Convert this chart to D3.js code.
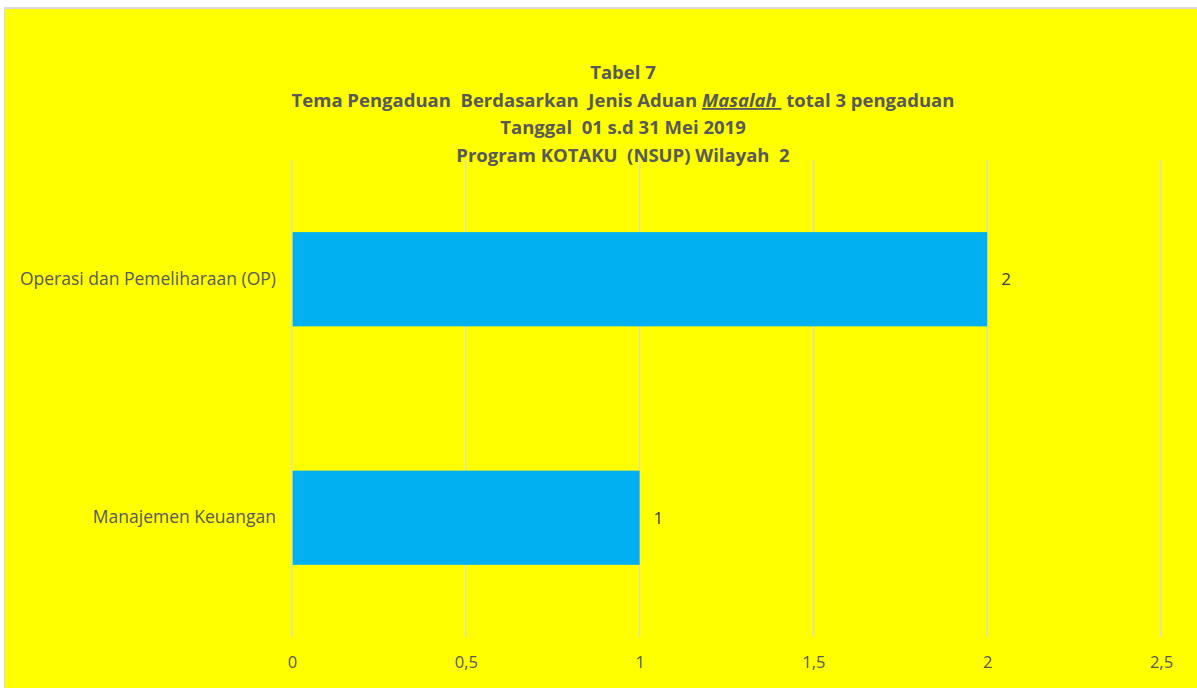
<!DOCTYPE html>
<html>
<head>
<meta charset="utf-8">
<script src="https://cdn.jsdelivr.net/npm/d3@7"></script>
<style>
  html, body { margin: 0; padding: 0; background: #ffffff; }
  svg { display: block; }
  text { font-family: "Open Sans", "Noto Sans", sans-serif; fill: #595959; }
</style>
</head>
<body>
<svg id="chart" width="1197" height="688"></svg>
<script>
// Data
const categories = ["Operasi dan Pemeliharaan (OP)", "Manajemen Keuangan"];
const values = [2, 1];
const tickValues = [0, 0.5, 1, 1.5, 2, 2.5];
const tickLabels = ["0", "0,5", "1", "1,5", "2", "2,5"];
const titleLines = [
  [{t: "Tabel 7"}],
  [{t: "Tema Pengaduan  Berdasarkan  Jenis Aduan "}, {t: "Masalah ", it: true, u: true}, {t: " total 3 pengaduan"}],
  [{t: "Tanggal  01 s.d 31 Mei 2019"}],
  [{t: "Program KOTAKU  (NSUP) Wilayah  2"}]
];

const svg = d3.select("#chart");
const W = 1197, H = 688;

// background frame
svg.append("rect").attr("x", 4).attr("y", 7).attr("width", W - 4).attr("height", H - 7)
  .attr("fill", "#d9d9d9");
svg.append("rect").attr("x", 5).attr("y", 9).attr("width", W - 5).attr("height", H - 9)
  .attr("fill", "#ffff00");

const plot = {left: 292, right: 1161, top: 160, bottom: 637};

const x = d3.scaleLinear().domain([0, 2.5]).range([plot.left, plot.right]);
const y = d3.scaleBand().domain(categories).range([plot.top, plot.bottom]).paddingInner(0.605).paddingOuter(0.3025);

// gridlines
svg.append("g").selectAll("line").data(tickValues).join("line")
  .attr("x1", d => x(d)).attr("x2", d => x(d))
  .attr("y1", plot.top).attr("y2", plot.bottom)
  .attr("stroke", "#d9d9d9").attr("stroke-width", 1.3);

// bars
svg.append("g").selectAll("rect").data(categories).join("rect")
  .attr("x", x(0) + 0.7)
  .attr("y", d => y(d))
  .attr("width", (d, i) => x(values[i]) - x(0) - 0.7)
  .attr("height", y.bandwidth())
  .attr("fill", "#00b0f0");

// value labels
svg.append("g").selectAll("text").data(categories).join("text")
  .attr("x", (d, i) => x(values[i]) + 14)
  .attr("y", d => y(d) + y.bandwidth() / 2)
  .attr("dy", "0.36em")
  .style("font-size", "17px")
  .style("fill", "#404040")
  .text((d, i) => values[i]);

// category labels
const yAxis = d3.axisLeft(y).tickSize(0).tickPadding(16);
const gy = svg.append("g").attr("transform", `translate(${plot.left},0)`).call(yAxis);
gy.select(".domain").remove();
gy.selectAll("text").attr("font-size", 17.5).style("font-family", '"Open Sans", sans-serif').style("fill", "#595959");

// x axis labels
const xAxis = d3.axisBottom(x).tickValues(tickValues).tickFormat((d, i) => tickLabels[i]).tickSize(0).tickPadding(0);
const gx = svg.append("g").attr("transform", `translate(0,${plot.bottom + 19})`).call(xAxis);
gx.select(".domain").remove();
gx.selectAll("text").attr("font-size", 16.5).style("font-family", '"Open Sans", sans-serif').style("fill", "#595959");

// title
const titleY = [79, 107, 134, 162];
titleLines.forEach((parts, i) => {
  const t = svg.append("text")
    .attr("x", 623).attr("y", titleY[i])
    .attr("text-anchor", "middle")
    .attr("font-size", 18.5)
    .attr("font-weight", "bold")
    .style("white-space", "pre")
    .attr("xml:space", "preserve");
  parts.forEach(p => {
    const ts = t.append("tspan").text(p.t);
    if (p.it) ts.attr("font-style", "italic");
    if (p.u) ts.attr("text-decoration", "underline");
  });
});
</script>
</body>
</html>
